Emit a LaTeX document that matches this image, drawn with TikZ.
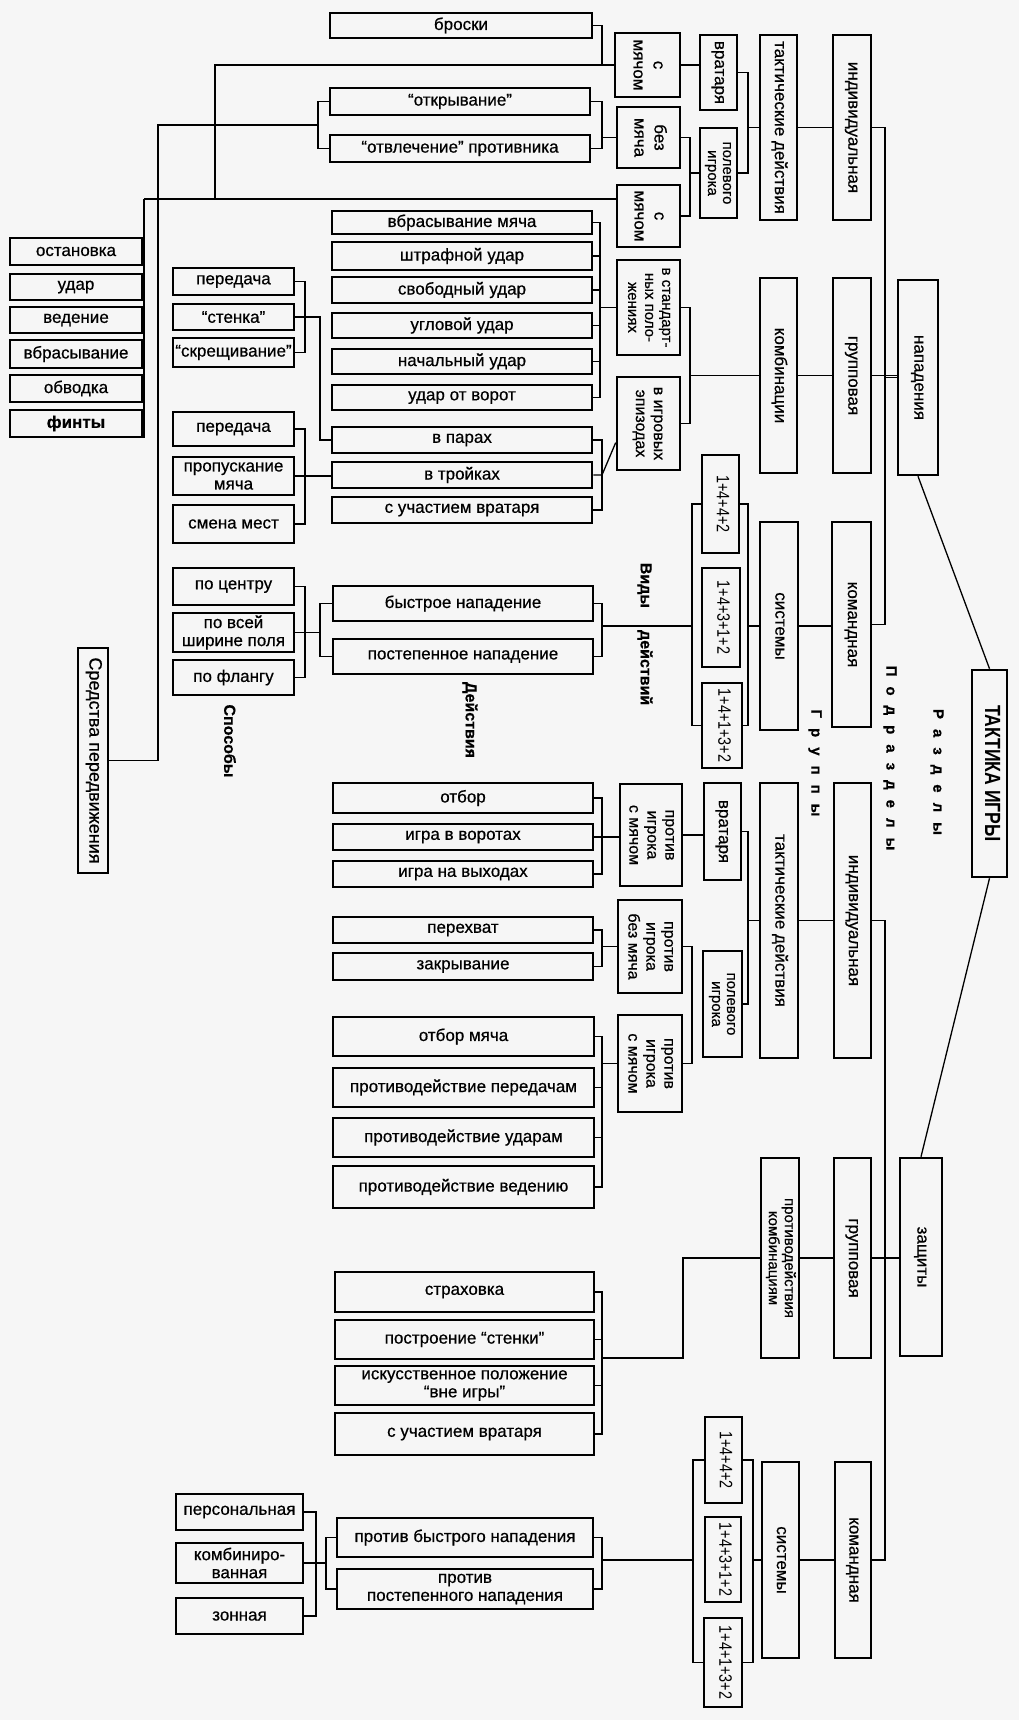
\documentclass[tikz,border=0pt]{standalone}
\usepackage{fontspec}
\setmainfont{Liberation Sans}[FakeBold=0.6]
\newfontfamily\tfont{Liberation Sans}[FakeStretch=0.8]
\usetikzlibrary{calc}
\definecolor{bgc}{RGB}{246,246,246}
\tikzset{
  bx/.style={draw, line width=2.6pt, inner sep=0pt, align=center, font=\fontsize{17}{18}\selectfont},
  ln/.style={line width=1.3pt},
  lbl/.style={inner sep=0pt, font=\fontsize{16}{18}\selectfont\bfseries},
}
\newcommand{\bx}[6]{\node[bx, minimum width={(#4-#2)*1pt}, minimum height={(#5-#3)*1pt}] (#1) at ({(#2+#4)/2},{(#3+#5)/2}) {#6};}
\newcommand{\rbx}[7][\fontsize{17}{18}\selectfont]{\node[bx, minimum width={(#5-#3)*1pt}, minimum height={(#6-#4)*1pt}] (#2) at ({(#3+#5)/2},{(#4+#6)/2}) {\rotatebox{-90}{#1\begin{tabular}{@{}c@{}}#7\end{tabular}}};}
\newcommand{\lsp}{\hspace{10pt}}
\newcommand{\numf}{\tfont\fontsize{18}{18}\selectfont}
\begin{document}
\begin{tikzpicture}[x=1pt,y=-1pt]
\fill[bgc] (0,0) rectangle (1019,1720);
\useasboundingbox (0,0) rectangle (1019,1720);

% x positions of brackets
\coordinate (X158) at (158,0);
\coordinate (X215) at (215,0);
\coordinate (X305) at (305,0);
\coordinate (X316) at (316,0);
\coordinate (X320) at (320,0);
\coordinate (X326) at (326,0);
\coordinate (X600) at (600,0);
\coordinate (X602) at (602,0);
\coordinate (X683) at (683,0);
\coordinate (X690) at (690,0);
\coordinate (X692) at (692,0);
\coordinate (X693) at (693,0);
\coordinate (X748) at (748,0);
\coordinate (X753) at (753,0);
\coordinate (X885) at (885,0);
\coordinate (lc) at (144,199);
\coordinate (ob) at (318,125);
\coordinate (sm) at (602,1358);

% ---------- left column ----------
\bx{ost}{10}{238}{142}{265}{остановка}
\bx{udar}{10}{274}{142}{300}{удар}
\bx{ved}{10}{307}{142}{333}{ведение}
\bx{vbr}{10}{340}{142}{368}{вбрасывание}
\bx{obv}{10}{375}{142}{402}{обводка}
\bx{fint}{10}{410}{142}{437}{\bfseries финты}
\rbx[\fontsize{18}{18}\selectfont]{sredstva}{78}{648}{108}{873}{Средства передвижения}

% ---------- способы ----------
\bx{per1}{173}{268}{294}{295}{передача}
\bx{sten}{173}{304}{294}{330}{“стенка”}
\bx{skr}{173}{338}{294}{367}{“скрещивание”}
\bx{per2}{173}{412}{294}{446}{передача}
\bx{prop}{173}{457}{294}{495}{пропускание\\мяча}
\bx{smena}{173}{505}{294}{543}{смена мест}
\bx{pocen}{173}{568}{294}{605}{по центру}
\bx{povs}{173}{613}{294}{652}{по всей\\ширине поля}
\bx{pofl}{173}{660}{294}{695}{по флангу}

% ---------- attack actions ----------
\bx{brosk}{330}{13}{592}{38}{броски}
\bx{otkr}{330}{88}{590}{115}{“открывание”}
\bx{otvl}{330}{135}{590}{162}{“отвлечение” противника}
\bx{vbm}{332}{211}{592}{234}{вбрасывание мяча}
\bx{shtr}{332}{242}{592}{270}{штрафной удар}
\bx{svob}{332}{277}{592}{303}{свободный удар}
\bx{ugl}{332}{313}{592}{338}{угловой удар}
\bx{nach}{332}{349}{592}{374}{начальный удар}
\bx{otvor}{332}{385}{592}{410}{удар от ворот}
\bx{par}{332}{427}{592}{453}{в парах}
\bx{troy}{332}{462}{592}{488}{в тройках}
\bx{suv}{332}{497}{592}{523}{с участием вратаря}
\bx{bystr}{333}{586}{593}{621}{быстрое нападение}
\bx{post}{333}{639}{593}{674}{постепенное нападение}

% ---------- attack right part ----------
\rbx[\fontsize{17}{20}\selectfont]{smg}{615}{33}{680}{97}{с\\мячом}
\rbx[\fontsize{17}{20}\selectfont]{bezm}{617}{107}{680}{168}{без\\мяча}
\rbx[\fontsize{17}{20}\selectfont]{smp}{617}{185}{680}{247}{с\\мячом}
\rbx{vrat}{700}{35}{737}{110}{вратаря}
\rbx[\fontsize{15}{15}\selectfont]{polev}{700}{128}{737}{218}{полевого\\игрока}
\rbx{takt}{760}{35}{797}{220}{тактические действия}
\rbx{indiv}{833}{35}{871}{220}{индивидуальная}
\rbx[\fontsize{15}{17}\selectfont]{vstand}{617}{260}{680}{355}{в стандарт-\\ных поло-\\жениях}
\rbx[\fontsize{16}{18}\selectfont]{vigr}{617}{377}{680}{470}{в игровых\\эпизодах}
\rbx{komb}{760}{278}{797}{473}{комбинации}
\rbx{grup}{833}{278}{871}{473}{групповая}
\rbx{napad}{898}{280}{938}{475}{нападения}
\rbx[\numf]{s1}{702}{455}{739}{553}{1+4+4+2}
\rbx[\numf]{s2}{702}{568}{740}{667}{1+4+3+1+2}
\rbx[\numf]{s3}{702}{683}{742}{768}{1+4+1+3+2}
\rbx{sist}{760}{522}{798}{730}{системы}
\rbx{koman}{832}{522}{871}{727}{командная}
\rbx[\tfont\fontsize{22}{22}\selectfont\bfseries]{taktika}{972}{670}{1007}{877}{ТАКТИКА ИГРЫ}

% ---------- defence ----------
\bx{otbor}{333}{783}{593}{813}{отбор}
\bx{igvor}{333}{824}{593}{850}{игра в воротах}
\bx{igvyh}{333}{861}{593}{887}{игра на выходах}
\bx{perekh}{333}{917}{593}{943}{перехват}
\bx{zakr}{333}{953}{593}{980}{закрывание}
\bx{otbm}{333}{1017}{594}{1056}{отбор мяча}
\bx{ppered}{333}{1068}{594}{1107}{противодействие передачам}
\bx{pudar}{333}{1118}{594}{1157}{противодействие ударам}
\bx{pved}{333}{1166}{594}{1208}{противодействие ведению}
\rbx[\fontsize{16}{18}\selectfont]{pism1}{620}{784}{682}{886}{против\\игрока\\с мячом}
\rbx[\fontsize{16}{18}\selectfont]{pibm}{618}{900}{682}{993}{против\\игрока\\без мяча}
\rbx[\fontsize{16}{18}\selectfont]{pism2}{618}{1015}{682}{1112}{против\\игрока\\с мячом}
\rbx{vrat2}{704}{783}{741}{880}{вратаря}
\rbx[\fontsize{15}{15}\selectfont]{polev2}{703}{951}{742}{1057}{полевого\\игрока}
\rbx{takt2}{760}{783}{798}{1058}{тактические действия}
\rbx{indiv2}{834}{783}{871}{1058}{индивидуальная}

\bx{strah}{335}{1272}{594}{1312}{страховка}
\bx{postst}{335}{1320}{594}{1359}{построение “стенки”}
\bx{iskus}{335}{1366}{594}{1405}{искусственное положение\\“вне игры”}
\bx{suv2}{335}{1413}{594}{1455}{с участием вратаря}
\rbx[\fontsize{15}{16}\selectfont]{protk}{761}{1158}{799}{1358}{противодействия\\комбинациям}
\rbx{grup2}{834}{1158}{871}{1358}{групповая}
\rbx{zasch}{900}{1158}{942}{1356}{защиты}

\bx{pers}{176}{1494}{303}{1530}{персональная}
\bx{kombin}{176}{1543}{303}{1583}{комбиниро-\\ванная}
\bx{zon}{176}{1598}{303}{1634}{зонная}
\bx{pbn}{337}{1518}{593}{1557}{против быстрого нападения}
\bx{ppn}{337}{1569}{593}{1609}{против\\постепенного нападения}
\rbx[\numf]{d1}{705}{1417}{742}{1503}{1+4+4+2}
\rbx[\numf]{d2}{705}{1517}{741}{1602}{1+4+3+1+2}
\rbx[\numf]{d3}{704}{1618}{742}{1707}{1+4+1+3+2}
\rbx{sist2}{762}{1462}{799}{1658}{системы}
\rbx{koman2}{835}{1462}{871}{1658}{командная}

% ---------- labels ----------
\node[lbl, rotate=-90] (lspos) at (230,741) {Способы};
\node[lbl, rotate=-90] (ldeyst) at (470,720) {Действия};
\node[lbl, rotate=-90] (lvidy) at (645,634) {Виды\hspace{22pt}действий};
\node[lbl, rotate=-90, font=\fontsize{15}{15}\selectfont\bfseries] (lgrupp) at (815,763) {Г\lsp р\lsp у\lsp п\lsp п\lsp ы};
\node[lbl, rotate=-90, font=\fontsize{15}{15}\selectfont\bfseries] (lpodr) at (890,758) {П\lsp о\lsp д\lsp р\lsp а\lsp з\lsp д\lsp е\lsp л\lsp ы};
\node[lbl, rotate=-90, font=\fontsize{15}{15}\selectfont\bfseries] (lrazd) at (937,772) {Р\lsp а\lsp з\lsp д\lsp е\lsp л\lsp ы};

% ---------- connectors: attack ----------
\draw[ln] (lc) -- (lc |- fint.south);
\draw[ln] (lc) -- (lc -| smp.west);
\draw[ln] (lc -| X215) -- (smg.west -| X215) -- (smg.west);
\draw[ln] (brosk.east) -| (smg.west -| X602) -- (smg.west);
\draw[ln] (otkr.west) -| (ob) |- (otvl.west);
\draw[ln] (sredstva.east) -| (X158 |- ob) -- (ob);
\draw[ln] (otkr.east) -| (bezm.west -| X602) |- (otvl.east);
\draw[ln] (bezm.west -| X602) -- (bezm.west);
\draw[ln] (smg.east) -- (smg.east -| vrat.west);
\draw[ln] (bezm.east) -| (polev.west -| X690) |- (smp.east);
\draw[ln] (polev.west -| X690) -- (polev.west);
\draw[ln] (vrat.east) -| (takt.west -| X748) |- (polev.east);
\draw[ln] (takt.west -| X748) -- (takt.west);
\draw[ln] (takt.east) -- (indiv.west);
\draw[ln] (indiv.east) -| (napad.west -| X885) |- (koman.east);
\draw[ln] (napad.west -| X885) -- (napad.west);
\draw[ln] (grup.east) -- (grup.east -| napad.west);

\draw[ln] (vbm.east) -| (X600 |- otvor.east) -- (otvor.east);
\foreach \n in {shtr,svob,ugl,nach} \draw[ln] (\n.east) -- (\n.east -| X600);
\draw[ln] (vstand.west -| X600) -- (vstand.west);
\draw[ln] (vstand.east) -| (komb.west -| X690) |- (vigr.east);
\draw[ln] (komb.west -| X690) -- (komb.west);
\draw[ln] (komb.east) -- (grup.west);

\draw[ln] (par.east) -| (X602 |- suv.east) -- (suv.east);
\draw[ln] (troy.east) -- (troy.east -| X602) -- ($(vigr.west)!0.4!(vigr.south west)$);

\draw[ln] (per1.east) -| (X305 |- skr.east) -- (skr.east);
\draw[ln] (sten.east) -- (sten.east -| X320) |- (par.west);
\draw[ln] (per2.east) -| (X305 |- smena.east) -- (smena.east);
\draw[ln] (prop.east) -- (prop.east -| troy.west);
\draw[ln] (pocen.east) -| (X305 |- pofl.east) -- (pofl.east);
\draw[ln] (povs.east) -- (povs.east -| X320);
\draw[ln] (bystr.west) -- (bystr.west -| X320) -- (post.west -| X320) -- (post.west);

\draw[ln] (bystr.east) -- (bystr.east -| X602) -- (post.east -| X602) -- (post.east);
\draw[ln] (sist.west -| X602) -- (sist.west -| X692);
\draw[ln] (s1.west) -| (X692 |- s3.west) -- (s3.west);
\draw[ln] (s1.east) -| (X748 |- s3.east) -- (s3.east);
\draw[ln] (sist.west -| X748) -- (sist.west);
\draw[ln] (sist.east) -- (sist.east -| koman.west);

\draw[ln] (taktika.north) -- (napad.south);
\draw[ln] (taktika.south) -- (zasch.north);

% ---------- connectors: defence ----------
\draw[ln] (otbor.east) -| (X602 |- igvyh.east) -- (igvyh.east);
\draw[ln] (igvor.east) -- (igvor.east -| pism1.west);
\draw[ln] (pism1.east) -- (pism1.east -| vrat2.west);
\draw[ln] (perekh.east) -| (X602 |- zakr.east) -- (zakr.east);
\draw[ln] (pibm.west -| X602) -- (pibm.west);
\draw[ln] (otbm.east) -| (X602 |- pved.east) -- (pved.east);
\foreach \n in {ppered,pudar} \draw[ln] (\n.east) -- (\n.east -| X602);
\draw[ln] (pism2.west -| X602) -- (pism2.west);
\draw[ln] (pibm.east) -| (X692 |- pism2.east) -- (pism2.east);
\draw[ln] (vrat2.east) -| (X748 |- polev2.east) -- (polev2.east);
\draw[ln] (takt2.west -| X748) -- (takt2.west);
\draw[ln] (takt2.east) -- (indiv2.west);
\draw[ln] (indiv2.east) -| (X885 |- koman2.east) -- (koman2.east);
\draw[ln] (grup2.east) -- (grup2.east -| zasch.west);
\draw[ln] (protk.east) -- (grup2.west);

\draw[ln] (protk.west) -| (X683 |- sm) -- (sm);
\draw[ln] (strah.east) -| (X602 |- suv2.east) -- (suv2.east);
\foreach \n in {postst,iskus} \draw[ln] (\n.east) -- (\n.east -| X602);

\draw[ln] (pers.east) -| (X316 |- zon.east) -- (zon.east);
\draw[ln] (kombin.east) -- (kombin.east -| X326);
\draw[ln] (pbn.west) -- (pbn.west -| X326) -- (ppn.west -| X326) -- (ppn.west);
\draw[ln] (pbn.east) -| (X602 |- ppn.east) -- (ppn.east);
\draw[ln] (sist2.west -| X602) -- (sist2.west -| X693);
\draw[ln] (d1.west) -| (X693 |- d3.west) -- (d3.west);
\draw[ln] (d1.east) -| (X753 |- d3.east) -- (d3.east);
\draw[ln] (sist2.west -| X753) -- (sist2.west);
\draw[ln] (sist2.east) -- (koman2.west);
\end{tikzpicture}
\end{document}
